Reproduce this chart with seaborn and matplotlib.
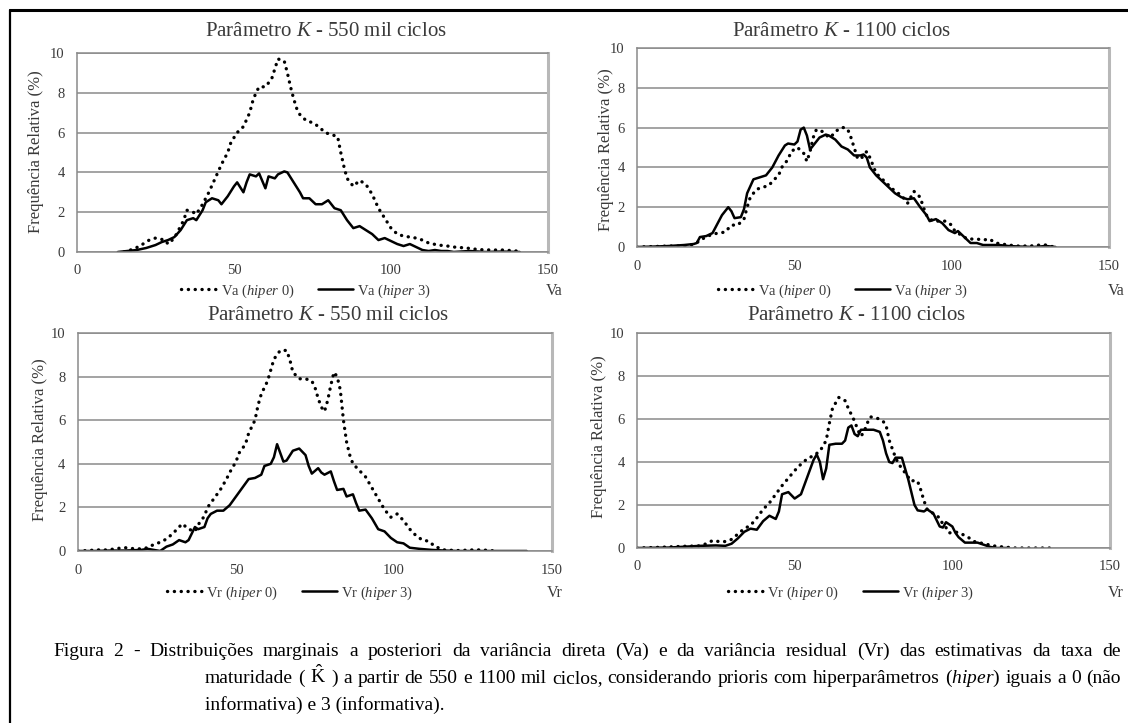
import numpy as np
import pandas as pd
import matplotlib
matplotlib.use("Agg")
import matplotlib.pyplot as plt
import seaborn as sns
from matplotlib.lines import Line2D

# ---------------- data ----------------
xticks_vals = [0, 50, 100, 150]
yticks_vals = [0, 2, 4, 6, 8, 10]

titles = ["Parâmetro $\\mathit{K}$ - 550 mil ciclos", "Parâmetro $\\mathit{K}$ - 1100 ciclos",
          "Parâmetro $\\mathit{K}$ - 550 mil ciclos", "Parâmetro $\\mathit{K}$ - 1100 ciclos"]
var_names = ["Va", "Va", "Vr", "Vr"]
ylabel_text = "Frequência Relativa (%)"

# Panel 1: Va, 550 mil ciclos
va550_h0_x = [15, 18, 20, 23, 25, 28, 29, 31, 32, 34, 35, 37, 38, 40, 42, 44, 46, 48, 49, 51, 53, 55, 56, 57, 58,
              60, 62, 63, 64, 66, 67, 68, 69, 70, 71, 73, 75, 77, 79, 81, 83, 84, 85, 86, 88, 90, 92, 94, 96, 98,
              100, 102, 104, 106, 108, 110, 112, 115, 118, 120, 124, 128, 132, 136, 140, 141]
va550_h0_y = [0, 0.15, 0.3, 0.6, 0.7, 0.6, 0.4, 0.7, 1.0, 1.6, 2.1, 2.0, 1.9, 2.4, 3.0, 3.7, 4.4, 5.0, 5.5, 6.0,
              6.3, 7.0, 7.6, 8.0, 8.3, 8.3, 8.7, 9.2, 9.7, 9.6, 9.0, 8.3, 7.7, 7.2, 6.9, 6.6, 6.5, 6.3, 6.0, 5.9,
              5.8, 5.0, 4.3, 3.7, 3.3, 3.6, 3.4, 2.9, 2.2, 1.7, 1.2, 0.9, 0.8, 0.75, 0.7, 0.6, 0.45, 0.35, 0.3,
              0.25, 0.2, 0.12, 0.1, 0.1, 0.05, 0.02]
va550_h3_x = [13, 16, 19, 22, 25, 27, 29, 31, 33, 35, 37, 38, 40, 41, 43, 45, 46, 48, 50, 51, 53, 54, 55, 57, 58,
              60, 61, 63, 64, 66, 67, 69, 71, 72, 74, 76, 78, 80, 82, 84, 86, 88, 90, 92, 94, 96, 98, 100, 102,
              104, 106, 108, 110, 112, 114, 116, 118, 120, 125, 130, 135, 141]
va550_h3_y = [0, 0.05, 0.1, 0.2, 0.35, 0.5, 0.6, 0.75, 1.1, 1.6, 1.7, 1.6, 2.1, 2.5, 2.7, 2.6, 2.4, 2.8, 3.3,
              3.5, 3.0, 3.5, 3.9, 3.8, 3.95, 3.2, 3.8, 3.7, 3.9, 4.05, 4.0, 3.5, 3.0, 2.7, 2.7, 2.4, 2.4, 2.6,
              2.2, 2.1, 1.6, 1.2, 1.3, 1.1, 0.9, 0.6, 0.7, 0.55, 0.4, 0.3, 0.4, 0.25, 0.1, 0.05, 0.1, 0.05,
              0.05, 0.0, 0.05, 0.0, 0.02, 0.0]

# Panel 2: Va, 1100 ciclos
va1100_h0_x = [0, 5, 10, 15, 17, 19, 20, 22, 24, 26, 28, 30, 32, 34, 35, 36, 38, 40, 42, 43, 45, 46, 48, 49, 51,
               53, 54, 55, 56, 57, 59, 61, 62, 63, 65, 66, 67, 68, 69, 70, 71, 72, 73, 74, 75, 76, 78, 80, 82,
               84, 86, 87, 88, 90, 91, 92, 94, 96, 98, 100, 101, 103, 105, 108, 110, 112, 114, 116, 118, 121,
               125, 128, 130, 132]
va1100_h0_y = [0, 0.02, 0.05, 0.05, 0.1, 0.2, 0.35, 0.5, 0.65, 0.7, 0.75, 1.1, 1.1, 1.4, 2.0, 2.5, 2.9, 3.0, 3.1,
               3.3, 3.6, 4.0, 4.4, 4.8, 5.0, 4.7, 4.3, 4.8, 5.5, 5.9, 5.8, 5.5, 5.6, 5.8, 6.0, 6.0, 5.9, 5.5,
               5.0, 4.5, 4.4, 4.6, 4.8, 4.5, 4.1, 3.7, 3.4, 3.1, 2.8, 2.6, 2.2, 2.5, 2.8, 2.5, 2.0, 1.6, 1.3,
               1.3, 1.3, 1.1, 0.8, 0.6, 0.4, 0.4, 0.35, 0.4, 0.2, 0.15, 0.1, 0.05, 0.05, 0.1, 0.1, 0.02]
va1100_h3_x = [0, 5, 10, 15, 18, 19, 20, 22, 24, 25, 27, 29, 30, 31, 33, 34, 35, 37, 39, 41, 43, 45, 47, 48, 50,
               51, 52, 53, 54, 55, 56, 57, 58, 60, 61, 63, 65, 67, 69, 71, 72, 73, 74, 76, 78, 80, 82, 84, 86,
               88, 90, 92, 93, 95, 97, 99, 101, 102, 104, 106, 108, 110, 115, 118, 122, 126, 130, 133]
va1100_h3_y = [0, 0.02, 0.05, 0.1, 0.15, 0.2, 0.5, 0.55, 0.7, 1.0, 1.6, 2.0, 1.8, 1.45, 1.5, 1.9, 2.7, 3.4, 3.5,
               3.6, 4.0, 4.6, 5.1, 5.2, 5.15, 5.3, 5.9, 6.0, 5.6, 4.9, 5.1, 5.3, 5.5, 5.65, 5.6, 5.4, 5.05,
               4.9, 4.6, 4.6, 4.65, 4.5, 4.0, 3.6, 3.3, 3.0, 2.7, 2.5, 2.4, 2.45, 2.0, 1.6, 1.3, 1.4, 1.2,
               0.85, 0.7, 0.8, 0.5, 0.2, 0.2, 0.1, 0.1, 0.05, 0.02, 0.0, 0.05, 0.0]

# Panel 3: Vr, 550 mil ciclos
vr550_h0_x = [0, 3, 6, 9, 12, 14, 15, 18, 20, 22, 24, 26, 28, 30, 32, 33, 35, 37, 38, 40, 41, 43, 45, 47, 48,
              50, 51, 53, 54, 56, 57, 58, 60, 61, 62, 64, 66, 67, 68, 70, 72, 74, 75, 76, 77, 78, 79, 80, 81,
              82, 83, 84, 85, 86, 87, 89, 91, 93, 95, 97, 99, 101, 103, 105, 107, 109, 111, 113, 116, 120, 125,
              128, 132]
vr550_h0_y = [0, 0.02, 0.05, 0.05, 0.1, 0.15, 0.15, 0.1, 0.1, 0.15, 0.3, 0.4, 0.55, 0.8, 1.1, 1.25, 1.0, 0.9,
              1.2, 1.6, 2.0, 2.4, 2.8, 3.3, 3.6, 4.1, 4.5, 4.9, 5.4, 6.0, 6.7, 7.2, 7.8, 8.3, 8.8, 9.2, 9.2,
              8.8, 8.2, 7.9, 7.9, 7.8, 7.5, 7.0, 6.6, 6.4, 6.9, 7.6, 8.2, 8.0, 7.4, 6.0, 5.0, 4.4, 4.0, 3.7,
              3.4, 2.9, 2.4, 1.9, 1.55, 1.7, 1.4, 1.0, 0.7, 0.5, 0.45, 0.2, 0.05, 0.02, 0.05, 0.05, 0.0]
vr550_h3_x = [0, 5, 10, 15, 20, 22, 24, 26, 28, 30, 32, 34, 35, 36, 37, 38, 40, 41, 42, 44, 46, 48, 50, 52, 54,
              56, 58, 59, 61, 62, 63, 64, 65, 66, 68, 70, 72, 73, 74, 76, 77, 78, 80, 81, 82, 84, 85, 87, 88,
              89, 91, 93, 95, 97, 99, 101, 103, 105, 108, 112, 116, 120, 130, 142]
vr550_h3_y = [0, 0.0, 0.02, 0.02, 0.05, 0.1, 0.05, 0.0, 0.2, 0.3, 0.5, 0.4, 0.5, 0.8, 1.1, 1.0, 1.1, 1.5, 1.7,
              1.85, 1.85, 2.1, 2.5, 2.9, 3.3, 3.35, 3.5, 3.9, 4.0, 4.3, 4.9, 4.5, 4.1, 4.15, 4.6, 4.7, 4.4,
              3.9, 3.55, 3.8, 3.6, 3.5, 3.65, 3.2, 2.8, 2.85, 2.5, 2.6, 2.2, 1.85, 1.9, 1.5, 1.0, 0.9, 0.6,
              0.4, 0.35, 0.15, 0.1, 0.05, 0.02, 0.0, 0.0, 0.0]

# Panel 4: Vr, 1100 ciclos
vr1100_h0_x = [0, 5, 10, 15, 20, 22, 24, 26, 28, 30, 32, 34, 36, 38, 40, 42, 44, 46, 48, 50, 52, 54, 56, 58, 60,
               61, 62, 64, 66, 67, 68, 69, 70, 71, 72, 73, 74, 76, 78, 79, 80, 82, 83, 84, 86, 87, 88, 89, 90,
               91, 92, 94, 96, 97, 98, 99, 101, 103, 105, 107, 110, 113, 116, 120, 124, 128, 131]
vr1100_h0_y = [0, 0.02, 0.05, 0.08, 0.1, 0.2, 0.35, 0.3, 0.3, 0.4, 0.65, 0.9, 1.05, 1.4, 1.8, 2.1, 2.5, 2.9,
               3.25, 3.6, 3.9, 4.15, 4.3, 4.5, 5.0, 5.8, 6.5, 7.0, 6.85, 6.5, 6.2, 5.9, 5.5, 5.2, 5.4, 5.8, 6.1,
               6.05, 5.9, 5.7, 5.0, 4.2, 3.9, 3.7, 3.3, 3.1, 3.15, 3.1, 2.7, 2.2, 1.8, 1.6, 1.4, 1.1, 0.95,
               0.7, 0.75, 0.65, 0.5, 0.3, 0.2, 0.1, 0.05, 0.0, 0.0, 0.0, 0.0]
vr1100_h3_x = [0, 10, 20, 25, 28, 30, 32, 34, 36, 38, 40, 42, 44, 45, 46, 48, 50, 52, 54, 56, 57, 58, 59, 60, 61,
               63, 65, 66, 67, 68, 69, 70, 71, 73, 75, 77, 78, 79, 80, 81, 82, 84, 85, 86, 87, 88, 89, 91, 92,
               94, 95, 96, 97, 98, 100, 101, 102, 104, 106, 108, 110, 112, 114, 118]
vr1100_h3_y = [0, 0.02, 0.1, 0.12, 0.1, 0.2, 0.45, 0.75, 0.9, 0.85, 1.25, 1.5, 1.35, 1.7, 2.5, 2.6, 2.3, 2.5,
               3.3, 4.1, 4.35, 4.0, 3.2, 3.7, 4.8, 4.85, 4.85, 5.0, 5.6, 5.7, 5.3, 5.2, 5.5, 5.5, 5.5, 5.4, 5.0,
               4.4, 4.0, 3.95, 4.2, 4.2, 3.7, 3.2, 2.6, 2.0, 1.75, 1.7, 1.8, 1.6, 1.3, 1.0, 0.95, 1.2, 1.0,
               0.7, 0.5, 0.25, 0.25, 0.25, 0.15, 0.05, 0.0, 0.0]

series = [
    (va550_h0_x, va550_h0_y, va550_h3_x, va550_h3_y),
    (va1100_h0_x, va1100_h0_y, va1100_h3_x, va1100_h3_y),
    (vr550_h0_x, vr550_h0_y, vr550_h3_x, vr550_h3_y),
    (vr1100_h0_x, vr1100_h0_y, vr1100_h3_x, vr1100_h3_y),
]

caption_lines = [
    "Figura 2 - Distribuições marginais a posteriori da variância direta (Va) e da variância residual (Vr) das estimativas da taxa de",
    "maturidade ( $\\hat{\\mathrm{K}}$ ) a partir de 550 e 1100 mil ciclos, considerando prioris com hiperparâmetros ($\\mathit{hiper}$) iguais a 0 (não",
    "informativa) e 3 (informativa).",
]

# ---------------- style ----------------
sns.set_theme(style="white")
plt.rcParams['font.family'] = ['Liberation Serif', 'DejaVu Serif']
plt.rcParams['mathtext.fontset'] = 'custom'
plt.rcParams['mathtext.rm'] = 'Liberation Serif'
plt.rcParams['mathtext.it'] = 'Liberation Serif:italic'
plt.rcParams['mathtext.bf'] = 'Liberation Serif:bold'

W, H = 1128, 723
fig = plt.figure(figsize=(W / 100, H / 100), dpi=100)
fig.patch.set_facecolor('white')

TXT = '#3a3a3a'
GRID = '#8a8a8a'
DOT = (0, (0.05, 2.0))

# pixel layout: (left, top, right, bottom)
boxes = [(77, 53, 548, 252), (637, 48, 1109, 247), (78, 333, 552, 551), (637, 333, 1110, 548)]
title_pos = [(326, 31), (842, 31), (328, 315), (857, 316)]
ylab_pos = [(36, 152), (606, 150), (40, 440), (599, 437)]
leg_pos = [(306, 291), (843, 291), (290, 593), (851, 593)]
var_pos = [(554, 291), (1116, 291), (555, 593), (1116, 593)]

for i, (l, t, r, b) in enumerate(boxes):
    ax = fig.add_axes([l / W, 1 - b / H, (r - l) / W, (b - t) / H])
    x0, y0, x3, y3 = series[i]
    vn = var_names[i]
    sns.lineplot(x=x0, y=y0, ax=ax, color='black', linewidth=2.4, linestyle=DOT,
                 dash_capstyle='round', label=f"{vn} ($\\mathit{{hiper}}$ 0)")
    sns.lineplot(x=x3, y=y3, ax=ax, color='black', linewidth=1.8, linestyle='-',
                 label=f"{vn} ($\\mathit{{hiper}}$ 3)")
    ax.set_xlim(0, 150)
    ax.set_ylim(0, 10)
    ax.set_xticks(xticks_vals)
    ax.set_yticks(yticks_vals)
    ax.set_xticklabels([str(v) for v in xticks_vals])
    ax.set_yticklabels([str(v) for v in yticks_vals])
    ax.yaxis.grid(True, color=GRID, linewidth=1.1)
    ax.xaxis.grid(False)
    ax.set_axisbelow(True)
    for s in ['left', 'bottom', 'top']:
        ax.spines[s].set_color(GRID)
        ax.spines[s].set_linewidth(1.1)
    ax.spines['right'].set_color('#b8b8b8')
    ax.spines['right'].set_linewidth(2.2)
    ax.tick_params(axis='both', direction='out', length=4, width=1, color=GRID,
                   labelsize=10.5, labelcolor=TXT, pad=5)
    ax.set_xlabel('')
    ax.set_ylabel('')
    ax.legend(loc='center', bbox_to_anchor=(leg_pos[i][0] / W, 1 - leg_pos[i][1] / H),
              bbox_transform=fig.transFigure, ncol=2, frameon=False, fontsize=10.5,
              handlelength=2.4, columnspacing=1.6, handletextpad=0.3, labelcolor=TXT)
    fig.text(title_pos[i][0] / W, 1 - title_pos[i][1] / H, titles[i], ha='center', va='center',
             fontsize=15, color=TXT)
    fig.text(ylab_pos[i][0] / W, 1 - ylab_pos[i][1] / H, ylabel_text, ha='center', va='center',
             rotation=90, fontsize=12, color=TXT)
    fig.text(var_pos[i][0] / W, 1 - var_pos[i][1] / H, vn, ha='center', va='center',
             fontsize=11.5, color=TXT)

# outer frame lines (top and left)
fig.add_artist(Line2D([9.5 / W, 1.0], [1 - 10 / H, 1 - 10 / H], color='black', linewidth=2.2,
                      transform=fig.transFigure))
fig.add_artist(Line2D([9.5 / W, 9.5 / W], [0.0, 1 - 10 / H], color='black', linewidth=1.6,
                      transform=fig.transFigure))

# ---------------- caption (justified) ----------------
fig.canvas.draw()
rend = fig.canvas.get_renderer()
fs0 = 13.0
targets = [(53, 1121), (205, 1121)]
fits = []
for line, (xl, xr) in zip(caption_lines[:2], targets):
    tmp = fig.text(0, 0, line, fontsize=fs0)
    w = tmp.get_window_extent(rend).width
    tmp.remove()
    fits.append(fs0 * (xr - xl) / w)
fs = min(fits) * 0.985


def justify(line, xl, xr, ybase):
    words = line.split(' ')
    texts = [fig.text(0, 1 - ybase / H, wd, fontsize=fs, ha='left', va='baseline', color='black')
             for wd in words]
    widths = [t.get_window_extent(rend).width for t in texts]
    gap = (xr - xl - sum(widths)) / (len(words) - 1)
    x = xl
    for t, wd in zip(texts, widths):
        t.set_x(x / W)
        x += wd + gap


justify(caption_lines[0], 53, 1121, 656)
justify(caption_lines[1], 205, 1121, 683)
fig.text(205 / W, 1 - 710 / H, caption_lines[2], ha='left', va='baseline', fontsize=fs, color='black')

fig.savefig('out.png', dpi=100, facecolor='white')
